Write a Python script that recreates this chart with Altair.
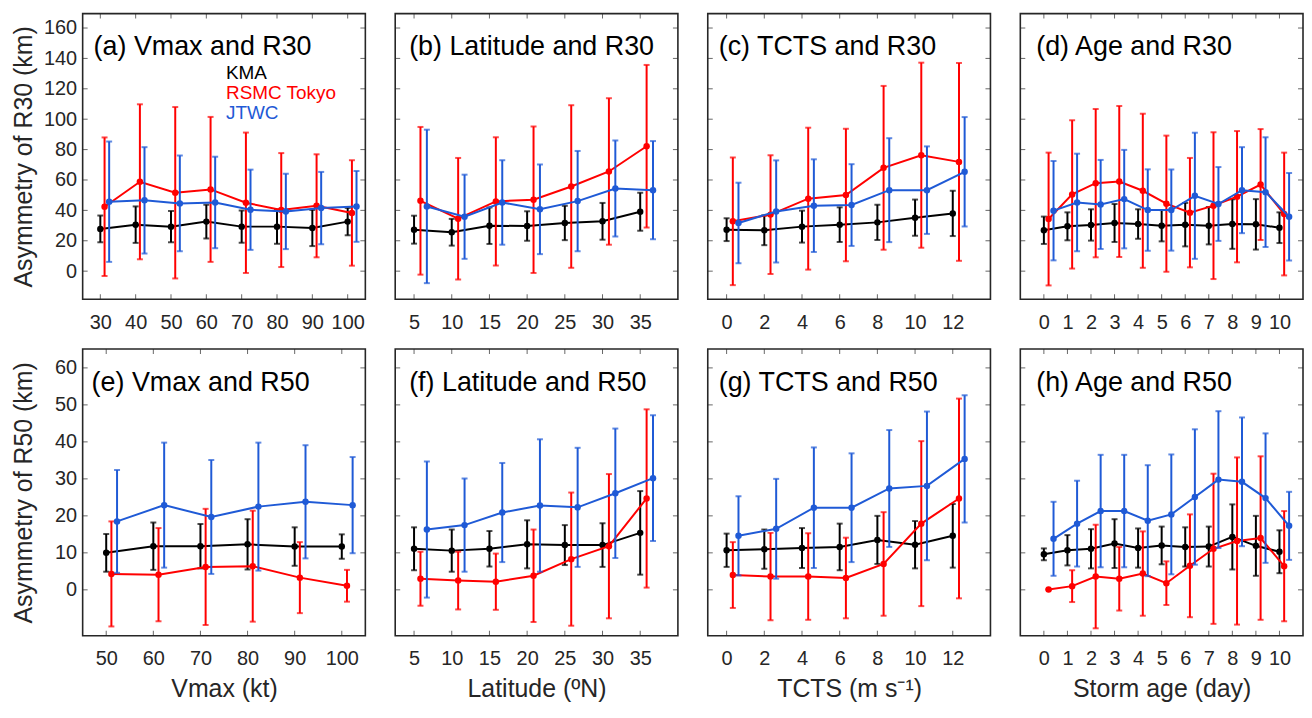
import altair as alt
import pandas as pd

FONT = "Liberation Sans"
SERIES = ["KMA", "RSMC Tokyo", "JTWC"]
COLORS = ["#000000", "#FF0000", "#1F5AD6"]
AXC = "#262626"

# ---------------- top row: R30 ----------------
a_x = [30, 40, 50, 60, 70, 80, 90, 100]
a_kma = [27.8, 30.6, 29.3, 32.6, 29.3, 29.3, 28.4, 32.6]
a_kma_sd = [8.8, 12.0, 10.3, 11.1, 10.6, 11.3, 11.9, 9.0]
a_rsmc = [42.4, 58.8, 51.6, 53.8, 45.0, 40.2, 43.0, 38.3]
a_rsmc_sd = [45.6, 51.0, 56.4, 47.7, 46.2, 37.5, 33.9, 34.7]
a_jtwc = [45.7, 46.6, 44.6, 45.2, 40.4, 39.3, 41.5, 42.6]
a_jtwc_sd = [39.6, 35.0, 31.5, 30.1, 26.4, 24.8, 23.8, 23.3]

b_x = [5, 10, 15, 20, 25, 30, 35]
b_kma = [27.3, 25.6, 29.9, 29.7, 31.7, 32.8, 39.1]
b_kma_sd = [9.2, 8.8, 12.0, 9.7, 11.3, 12.1, 12.5]
b_rsmc = [46.3, 34.5, 45.9, 47.0, 55.7, 65.6, 82.2]
b_rsmc_sd = [48.6, 40.0, 42.2, 48.2, 53.5, 48.2, 53.5]
b_jtwc = [42.6, 35.8, 45.2, 40.7, 46.1, 54.4, 53.3]
b_jtwc_sd = [50.5, 27.7, 27.8, 29.5, 33.0, 31.6, 32.3]

c_x = [0, 2, 4, 6, 8, 10, 12]
c_kma = [27.3, 26.9, 29.3, 30.6, 32.1, 35.2, 38.0]
c_kma_sd = [7.5, 9.8, 10.5, 11.4, 11.6, 11.9, 14.9]
c_rsmc = [32.8, 37.2, 47.7, 50.1, 68.0, 76.3, 71.9]
c_rsmc_sd = [42.0, 39.0, 46.7, 43.6, 53.9, 60.9, 65.1]
c_jtwc = [31.7, 39.3, 43.1, 43.5, 53.3, 53.3, 65.4]
c_jtwc_sd = [26.5, 33.6, 30.5, 26.9, 34.2, 28.8, 36.0]

d_x = [0, 1, 2, 3, 4, 5, 6, 7, 8, 9, 10]
d_kma = [26.9, 29.5, 30.4, 31.7, 31.0, 29.9, 30.6, 29.9, 31.0, 30.8, 28.6]
d_kma_sd = [9.0, 9.2, 10.3, 12.5, 9.7, 10.3, 14.3, 12.3, 16.3, 16.6, 10.1]
d_rsmc = [34.3, 50.5, 57.9, 59.0, 52.9, 44.4, 38.5, 43.1, 49.0, 57.0, 37.6]
d_rsmc_sd = [43.7, 48.8, 48.8, 49.7, 50.7, 44.8, 36.0, 48.3, 43.2, 36.5, 40.4]
d_jtwc = [39.8, 45.2, 43.9, 47.4, 40.2, 40.2, 49.6, 44.2, 53.3, 52.0, 35.8]
d_jtwc_sd = [32.7, 32.1, 29.3, 32.4, 26.8, 26.7, 41.5, 24.3, 28.3, 36.1, 28.8]

# ---------------- bottom row: R50 ----------------
e_x = [50, 60, 70, 80, 90, 100]
e_kma = [10.0, 11.8, 11.8, 12.3, 11.7, 11.7]
e_kma_sd = [5.1, 6.4, 6.0, 6.8, 5.2, 3.3]
e_rsmc = [4.3, 4.1, 6.2, 6.4, 3.3, 1.1]
e_rsmc_sd = [14.2, 12.6, 15.7, 15.0, 9.6, 4.3]
e_jtwc = [18.5, 22.9, 19.7, 22.5, 23.8, 22.9]
e_jtwc_sd = [13.9, 16.9, 15.4, 17.3, 15.3, 13.0]

f_x = [5, 10, 15, 20, 25, 30, 35]
f_kma = [11.1, 10.6, 11.1, 12.3, 12.1, 12.1, 15.4]
f_kma_sd = [5.8, 5.7, 4.8, 6.5, 5.4, 5.9, 11.3]
f_rsmc = [3.0, 2.5, 2.2, 3.8, 8.3, 11.8, 24.7]
f_rsmc_sd = [7.3, 7.8, 7.6, 12.5, 18.0, 19.5, 24.1]
f_jtwc = [16.3, 17.5, 20.9, 22.8, 22.3, 26.1, 30.2]
f_jtwc_sd = [18.4, 12.6, 13.4, 17.9, 16.1, 17.5, 17.0]

g_x = [0, 2, 4, 6, 8, 10, 12]
g_kma = [10.7, 11.0, 11.3, 11.6, 13.5, 12.2, 14.6]
g_kma_sd = [4.5, 5.3, 5.4, 6.3, 6.5, 6.4, 8.6]
g_rsmc = [4.0, 3.6, 3.6, 3.2, 7.0, 17.9, 24.7]
g_rsmc_sd = [8.9, 11.8, 11.7, 10.9, 14.0, 22.3, 27.0]
g_jtwc = [14.6, 16.5, 22.2, 22.2, 27.4, 28.1, 35.4]
g_jtwc_sd = [10.7, 13.5, 16.3, 14.7, 15.8, 20.1, 17.2]

h_x = [0, 1, 2, 3, 4, 5, 6, 7, 8, 9, 10]
h_kma = [9.6, 10.7, 11.1, 12.5, 11.3, 12.0, 11.6, 11.7, 14.3, 11.9, 10.3]
h_kma_sd = [1.6, 4.1, 5.3, 6.6, 5.3, 5.1, 5.3, 5.4, 8.8, 8.1, 5.8]
h_rsmc = [0.1, 1.0, 3.6, 3.0, 4.4, 1.8, 6.5, 11.1, 13.2, 14.0, 6.4]
h_rsmc_sd = [0.0, 4.3, 14.0, 8.6, 11.4, 5.9, 13.9, 20.3, 22.6, 22.1, 14.9]
h_jtwc = [13.8, 17.9, 21.3, 21.3, 18.7, 20.4, 25.1, 29.8, 29.2, 24.8, 17.3]
h_jtwc_sd = [10.0, 11.6, 15.2, 15.2, 15.0, 16.2, 18.3, 18.5, 17.4, 17.5, 9.2]

# axis ticks
top_yticks = [0, 20, 40, 60, 80, 100, 120, 140, 160]
bot_yticks = [0, 10, 20, 30, 40, 50, 60]
vmax30_ticks = [30, 40, 50, 60, 70, 80, 90, 100]
vmax50_ticks = [50, 60, 70, 80, 90, 100]
lat_ticks = [5, 10, 15, 20, 25, 30, 35]
tcts_ticks = [0, 2, 4, 6, 8, 10, 12]
age_ticks = [0, 1, 2, 3, 4, 5, 6, 7, 8, 9, 10]

W = 284
H_TOP = 287
H_BOT = 288
LABEL_FS = 20


def make_panel(xv, means, sds, dodge, xdom, ydom, xticks, yticks, title, tdx, H,
               ytitle=None, xtitle=None, legend=False):
    xs = alt.Scale(domain=xdom, nice=False, zero=False)
    ys = alt.Scale(domain=ydom, nice=False, zero=False)
    xkw = dict(values=xticks, ticks=False, domain=False, grid=False,
               labelFontSize=LABEL_FS, labelColor=AXC, labelPadding=13,
               labelOverlap=False, labelFlush=False, format="d")
    if xtitle:
        xkw.update(title=xtitle, titleFontSize=25, titleFontWeight="normal",
                   titleColor=AXC, titlePadding=8)
    else:
        xkw.update(title="")
    xaxis = alt.Axis(**xkw)
    if ytitle:
        yaxis = alt.Axis(values=yticks, ticks=False, domain=False, grid=False,
                         labelFontSize=LABEL_FS, labelColor=AXC, labelPadding=6,
                         minExtent=40, maxExtent=40, labelOverlap=False,
                         labelFlush=False, format="d",
                         title=ytitle, titleFontSize=25, titleFontWeight="normal",
                         titleColor=AXC, titlePadding=6)
    else:
        yaxis = None

    layers = []
    for i, (s, c) in enumerate(zip(SERIES, COLORS)):
        df = pd.DataFrame({
            "x": [v + dodge[i] for v in xv],
            "m": means[i],
            "lo": [m - d for m, d in zip(means[i], sds[i])],
            "hi": [m + d for m, d in zip(means[i], sds[i])],
        })
        X = alt.X("x:Q", scale=xs, axis=xaxis)
        base = alt.Chart(df)
        layers.append(base.mark_rule(color=c, strokeWidth=2).encode(
            x=X, y=alt.Y("lo:Q", scale=ys, axis=yaxis), y2="hi:Q"))
        for col in ("lo", "hi"):
            layers.append(base.mark_tick(color=c, orient="horizontal", size=6,
                                         thickness=2).encode(
                x=X, y=alt.Y(f"{col}:Q", scale=ys, axis=yaxis)))
        layers.append(base.mark_line(color=c, strokeWidth=2).encode(
            x=X, y=alt.Y("m:Q", scale=ys, axis=yaxis)))
        layers.append(base.mark_circle(color=c, size=42, opacity=1).encode(
            x=X, y=alt.Y("m:Q", scale=ys, axis=yaxis)))

    # inward ticks on all four sides
    ydf = pd.DataFrame({"v": yticks})
    xdf = pd.DataFrame({"v": xticks})
    for xp in (2.5, W - 2.5):
        layers.append(alt.Chart(ydf).mark_tick(color=AXC, orient="horizontal",
                                               size=5, thickness=1).encode(
            y=alt.Y("v:Q", scale=ys, axis=yaxis), x=alt.value(xp)))
    for yp in (2.5, H - 2.5):
        layers.append(alt.Chart(xdf).mark_tick(color=AXC, orient="vertical",
                                               size=5, thickness=1).encode(
            x=alt.X("v:Q", scale=xs, axis=xaxis), y=alt.value(yp)))

    # panel title
    layers.append(alt.Chart(pd.DataFrame({"t": [title]})).mark_text(
        align="left", baseline="alphabetic", fontSize=27, color="#000000").encode(
        text="t:N", x=alt.value(tdx), y=alt.value(42)))

    if legend:
        for j, (s, c) in enumerate(zip(SERIES, COLORS)):
            layers.append(alt.Chart(pd.DataFrame({"t": [s]})).mark_text(
                align="left", baseline="alphabetic", fontSize=19, color=c).encode(
                text="t:N", x=alt.value(144), y=alt.value(66 + 19.8 * j)))

    return alt.layer(*layers).properties(width=W, height=H)


TOPY = [-18.5, 169.5]
BOTY = [-12.4, 65.1]

pa = make_panel(a_x, [a_kma, a_rsmc, a_jtwc], [a_kma_sd, a_rsmc_sd, a_jtwc_sd],
                [0, 1.2, 2.5], [25, 105], TOPY, vmax30_ticks, top_yticks,
                "(a) Vmax and R30", 11, H_TOP, ytitle="Asymmetry of R30 (km)",
                legend=True)
pb = make_panel(b_x, [b_kma, b_rsmc, b_jtwc], [b_kma_sd, b_rsmc_sd, b_jtwc_sd],
                [0, 0.85, 1.7], [2.5, 40], TOPY, lat_ticks, top_yticks,
                "(b) Latitude and R30", 14, H_TOP)
pc = make_panel(c_x, [c_kma, c_rsmc, c_jtwc], [c_kma_sd, c_rsmc_sd, c_jtwc_sd],
                [0, 0.33, 0.63], [-1, 14], TOPY, tcts_ticks, top_yticks,
                "(c) TCTS and R30", 11, H_TOP)
pd_ = make_panel(d_x, [d_kma, d_rsmc, d_jtwc], [d_kma_sd, d_rsmc_sd, d_jtwc_sd],
                 [0, 0.2, 0.41], [-1, 11], TOPY, age_ticks, top_yticks,
                 "(d) Age and R30", 16, H_TOP)

pe = make_panel(e_x, [e_kma, e_rsmc, e_jtwc], [e_kma_sd, e_rsmc_sd, e_jtwc_sd],
                [0, 1.1, 2.3], [45, 105], BOTY, vmax50_ticks, bot_yticks,
                "(e) Vmax and R50", 9, H_BOT, ytitle="Asymmetry of R50 (km)",
                xtitle="Vmax (kt)")
pf = make_panel(f_x, [f_kma, f_rsmc, f_jtwc], [f_kma_sd, f_rsmc_sd, f_jtwc_sd],
                [0, 0.85, 1.7], [2.5, 40], BOTY, lat_ticks, bot_yticks,
                "(f) Latitude and R50", 14, H_BOT, xtitle="Latitude (ºN)")
pg = make_panel(g_x, [g_kma, g_rsmc, g_jtwc], [g_kma_sd, g_rsmc_sd, g_jtwc_sd],
                [0, 0.33, 0.63], [-1, 14], BOTY, tcts_ticks, bot_yticks,
                "(g) TCTS and R50", 11, H_BOT, xtitle="TCTS (m s⁻¹)")
ph = make_panel(h_x, [h_kma, h_rsmc, h_jtwc], [h_kma_sd, h_rsmc_sd, h_jtwc_sd],
                [0, 0.2, 0.41], [-1, 11], BOTY, age_ticks, bot_yticks,
                "(h) Age and R50", 16, H_BOT, xtitle="Storm age (day)")

row1 = alt.hconcat(pa, pb, pc, pd_, spacing=28)
row2 = alt.hconcat(pe, pf, pg, ph, spacing=28)

chart = (
    alt.vconcat(row1, row2, spacing=15)
    .properties(padding={"left": 3, "top": 3, "right": 0, "bottom": 0})
    .configure(font=FONT)
    .configure_view(stroke=AXC, strokeWidth=1.6)
)

chart.save("out.html", embed_options={"renderer": "svg", "actions": False})
